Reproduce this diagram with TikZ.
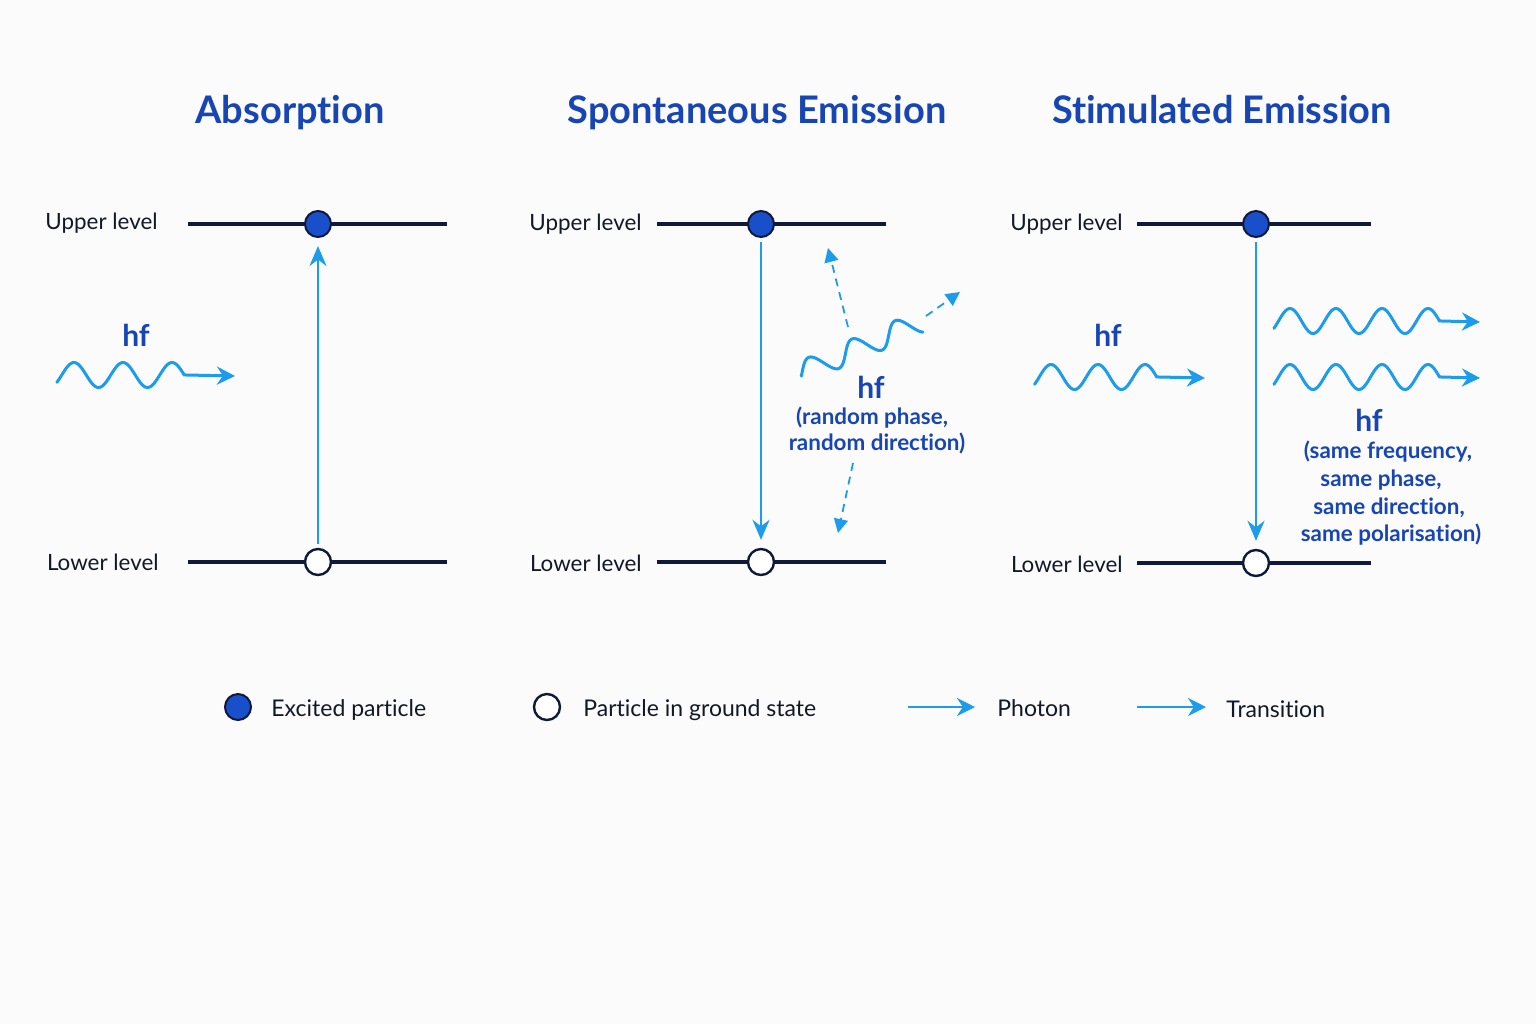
\documentclass[tikz,border=0pt]{standalone}
\usepackage{fontspec}
\setmainfont{Lato}[Ligatures={NoCommon,NoContextual}]
\usetikzlibrary{arrows.meta}
\newcommand{\tI}{t\kern0pt i}
\definecolor{navy}{HTML}{0F1A3A}
\definecolor{ink}{HTML}{111827}
\definecolor{tblue}{HTML}{1745B4}
\definecolor{dotblue}{HTML}{1A4FCB}
\definecolor{photon}{HTML}{1C9CEB}
\definecolor{bg}{HTML}{FBFBFC}
\begin{document}
\begin{tikzpicture}[x=0.5pt,y=-0.5pt,
  lvl/.style={draw=navy, line width=1.6pt},
  excited/.style={circle, fill=dotblue, draw=navy, line width=1pt, minimum size=13pt, inner sep=0pt},
  ground/.style={circle, fill=white, draw=navy, line width=1.2pt, minimum size=13pt, inner sep=0pt},
  trans/.style={draw=photon, line width=1.2pt, -{Stealth[length=10pt,width=8.5pt]}},
  wave/.style={draw=photon, line width=1.5pt, line cap=round, -{Stealth[length=9pt,width=9pt]}},
  rand/.style={draw=photon, line width=0.9pt, dash pattern=on 4pt off 3pt, -{Triangle[length=7pt,width=7pt]}},
  legarrow/.style={draw=photon, line width=1.3pt, -{Stealth[length=9pt,width=9pt]}},
  title/.style={font=\fontsize{19}{23}\selectfont\bfseries, text=tblue, inner sep=0pt, anchor=base},
  lvltext/.style={font=\fontsize{11.2}{14}\selectfont, text=ink, inner sep=0pt, anchor=base east},
  hf/.style={font=\fontsize{15}{18}\selectfont\bfseries, text=tblue, inner sep=0pt, anchor=base},
  note/.style={font=\fontsize{11.2}{14}\selectfont\bfseries, text=tblue, inner sep=0pt, anchor=base},
  legtext/.style={font=\fontsize{11.5}{14}\selectfont, text=ink, inner sep=0pt, anchor=base west}]
\fill[bg] (0,0) rectangle (1536,1024);
\useasboundingbox (0,0) rectangle (1536,1024);

% ---------- Absorption ----------
\node[title] (t1) at (290,123) {Absorp\tI on};
\node[lvltext] (ul1) at (158,229) {Upper level};
\node[lvltext] (ll1) at (159,570) {Lower level};
\draw[lvl] (188,224) -- (447,224);
\draw[lvl] (188,562) -- (447,562);
\node[excited] (u1) at (318,224) {};
\node[ground] (l1) at (318,562) {};
\draw[trans, shorten <=2pt, shorten >=4pt] (l1) -- (u1);
\draw[wave] plot[domain=-0.1:2.5, samples=90] ({74+49*(\x-0.25)}, {375-12.5*sin(360*\x)}) -- (235,376);
\node[hf] (hf1) at (136,346) {hf};

% ---------- Spontaneous Emission ----------
\node[title] (t2) at (757,123) {Spontaneous Emission};
\node[lvltext] (ul2) at (642,230) {Upper level};
\node[lvltext] (ll2) at (642,571) {Lower level};
\draw[lvl] (657,224) -- (886,224);
\draw[lvl] (657,562) -- (886,562);
\node[excited] (u2) at (761,224) {};
\node[ground] (l2) at (761,562) {};
\draw[trans, shorten <=2pt, shorten >=4pt] (u2) -- (l2);
\begin{scope}[shift={(800,373)}, rotate=23]
  \draw[draw=photon, line width=1.5pt, line cap=round] plot[domain=-0.05:2.7, samples=90] ({47*(\x+0.05)}, {-11*sin(360*\x)});
\end{scope}
\coordinate (s1a) at (926,316);
\coordinate (s1b) at (960,292);
\coordinate (s2a) at (848,327);
\coordinate (s2b) at (828,248);
\coordinate (s3a) at (853,463);
\coordinate (s3b) at (838,533);
\draw[rand] (s1a) -- (s1b);
\draw[rand] (s2a) -- (s2b);
\draw[rand] (s3a) -- (s3b);
\node[hf] (hf2) at (871,398) {hf};
\node[note] (n21) at (872,424) {(random phase,};
\node[note] (n22) at (877,450) {random direc\tI on)};

% ---------- Stimulated Emission ----------
\node[title] (t3) at (1222,123) {S\tI mulated Emission};
\node[lvltext] (ul3) at (1123,230) {Upper level};
\node[lvltext] (ll3) at (1123,572) {Lower level};
\draw[lvl] (1137,224) -- (1371,224);
\draw[lvl] (1137,563) -- (1371,563);
\node[excited] (u3) at (1256,224) {};
\node[ground] (l3) at (1256,563) {};
\draw[trans, shorten <=2pt, shorten >=4pt] (u3) -- (l3);
\draw[wave] plot[domain=-0.1:2.5, samples=90] ({1051+47*(\x-0.25)}, {377-12.5*sin(360*\x)}) -- (1205,378);
\draw[wave] plot[domain=-0.1:3.5, samples=110] ({1290+46*(\x-0.25)}, {321-12.5*sin(360*\x)}) -- (1480,322);
\draw[wave] plot[domain=-0.1:3.5, samples=110] ({1290+46*(\x-0.25)}, {377-12.5*sin(360*\x)}) -- (1480,378);
\node[hf] (hf3) at (1108,346) {hf};
\node[hf] (hf4) at (1369,431) {hf};
\node[note] (n31) at (1388,458) {(same frequency,};
\node[note] (n32) at (1381,486) {same phase,};
\node[note] (n33) at (1389,514) {same direc\tI on,};
\node[note] (n34) at (1391,541) {same polarisa\tI on)};

% ---------- Legend ----------
\node[excited] (lg1) at (238,707) {};
\node[legtext] (lt1) at (271,716) {Excited particle};
\node[ground] (lg2) at (547,707) {};
\node[legtext] (lt2) at (583,716) {Particle in ground state};
\coordinate (pa) at (908,707);
\coordinate (pb) at (975,707);
\draw[legarrow] (pa) -- (pb);
\node[legtext] (lt3) at (997,716) {Photon};
\coordinate (ta) at (1137,707);
\coordinate (tb) at (1206,707);
\draw[legarrow] (ta) -- (tb);
\node[legtext] (lt4) at (1226,717) {Transi\tI on};
\end{tikzpicture}
\end{document}
